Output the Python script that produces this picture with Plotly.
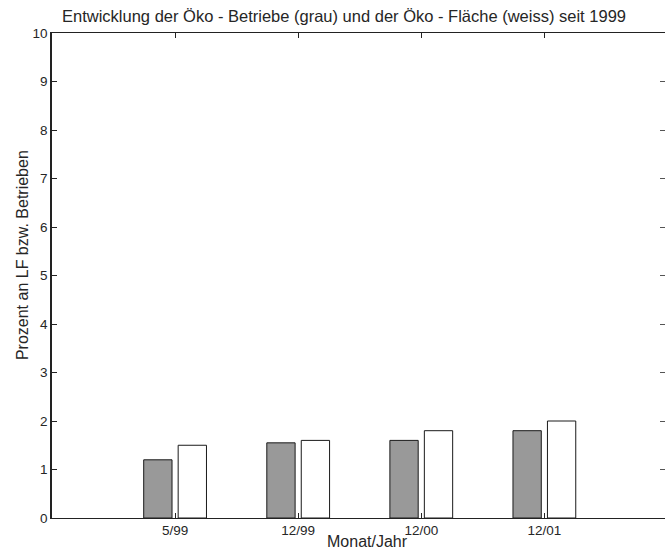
import plotly.graph_objects as go

categories = ["5/99", "12/99", "12/00", "12/01"]
positions = [1, 2, 3, 4]
betriebe = [1.2, 1.55, 1.6, 1.8]   # grau
flaeche = [1.5, 1.6, 1.8, 2.0]     # weiss
y_ticks = list(range(0, 11))

font = "Liberation Sans, Arial, Helvetica, sans-serif"
txt = "#262626"

fig = go.Figure()
fig.add_trace(go.Bar(x=positions, y=betriebe, width=0.23, offset=-0.255,
                     marker=dict(color="#999999", line=dict(color="#1a1a1a", width=1)),
                     showlegend=False, hoverinfo="skip"))
fig.add_trace(go.Bar(x=positions, y=flaeche, width=0.23, offset=0.025,
                     marker=dict(color="#ffffff", line=dict(color="#1a1a1a", width=1)),
                     showlegend=False, hoverinfo="skip"))
# invisible trace for right-side ticks
fig.add_trace(go.Scatter(x=[0], y=[0], yaxis="y2", mode="markers",
                         marker=dict(opacity=0), showlegend=False, hoverinfo="skip"))

fig.update_layout(
    width=665, height=552,
    margin=dict(l=52, r=0, t=33, b=34, autoexpand=False),
    paper_bgcolor="white", plot_bgcolor="white",
    font=dict(family=font, size=13.5, color=txt),
    xaxis=dict(range=[0, 4.98], tickvals=positions, ticktext=categories,
               ticks="inside", ticklen=5, tickcolor="#222", showline=True,
               linecolor="#222", linewidth=1, mirror="ticks", showgrid=False,
               zeroline=False, tickfont=dict(size=13.5, color=txt), automargin=False),
    yaxis=dict(range=[0, 10], tickvals=y_ticks, ticks="inside", ticklen=5,
               tickcolor="#222", showline=True, linecolor="#222", linewidth=1.5,
               showgrid=False, zeroline=False, tickfont=dict(size=13.5, color=txt),
               automargin=False),
    yaxis2=dict(range=[0, 10], tickvals=y_ticks, overlaying="y", side="right",
                ticks="inside", ticklen=5, tickcolor="#555", showticklabels=False,
                showline=False, showgrid=False, zeroline=False, automargin=False),
    annotations=[
        dict(text="Entwicklung der Öko - Betriebe (grau) und der Öko - Fläche (weiss) seit 1999",
             xref="paper", yref="paper", x=0.477, y=1.035, xanchor="center",
             yanchor="middle", showarrow=False, font=dict(size=16.5, color=txt)),
        dict(text="Monat/Jahr", xref="paper", yref="paper", x=0.514, y=-0.048,
             xanchor="center", yanchor="middle", showarrow=False,
             font=dict(size=16, color=txt)),
        dict(text="Prozent an LF bzw. Betrieben", xref="paper", yref="paper",
             x=-0.049, y=0.542, xanchor="center", yanchor="middle", textangle=-90,
             showarrow=False, font=dict(size=16, color=txt)),
    ],
)

fig.write_html("out.html", config={"displayModeBar": False},
               post_script="document.body.style.margin='0';")
